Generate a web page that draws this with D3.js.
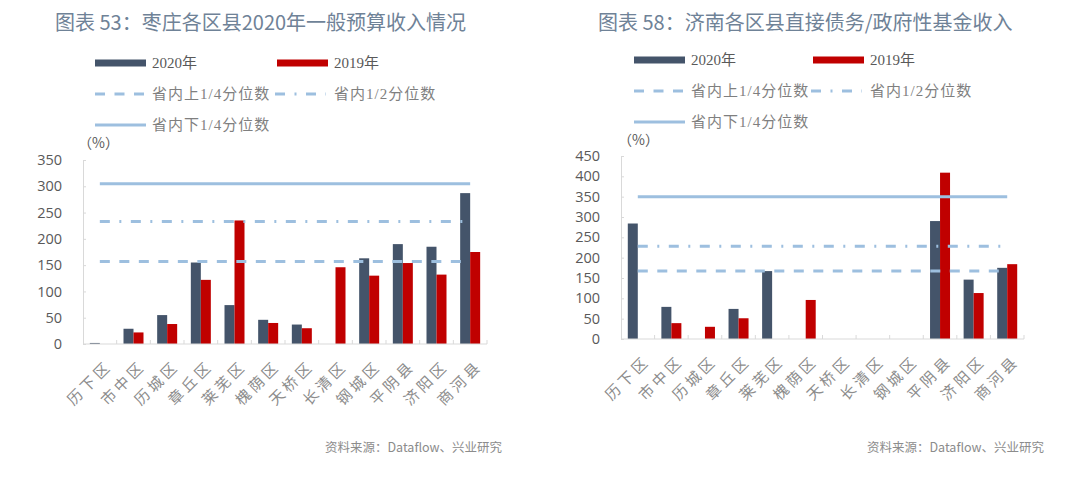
<!DOCTYPE html>
<html><head><meta charset="utf-8">
<script src="https://cdn.jsdelivr.net/npm/d3@7"></script>
<style>
html,body{margin:0;padding:0;background:#fff;}
svg{display:block;}
</style></head>
<body>
<svg id="chart" width="1080" height="479"></svg>
<script>
// ---- data ----
const categories = ["历下区","市中区","历城区","章丘区","莱芜区","槐荫区","天桥区","长清区","钢城区","平阴县","济阳区","商河县"];
const seriesNames = ["2020年","2019年"];
const refNames = ["省内上1/4分位数","省内1/2分位数","省内下1/4分位数"];

const leftTitle = "图表 53：枣庄各区县2020年一般预算收入情况";
const left2020 = [2, 29, 55, 155, 74, 46, 37, 0, 163, 190, 185, 287];
const left2019 = [0, 22, 38, 122, 235, 40, 30, 146, 130, 154, 132, 175];
const leftRefs = [157, 233, 305];
const leftTicks = [0, 50, 100, 150, 200, 250, 300, 350];

const rightTitle = "图表 58：济南各区县直接债务/政府性基金收入";
const right2020 = [284, 79, 0, 74, 167, 0, 0, 0, 0, 290, 146, 175];
const right2019 = [0, 39, 30, 51, 0, 96, 0, 0, 0, 409, 113, 184];
const rightRefs = [167, 228, 350];
const rightTicks = [0, 50, 100, 150, 200, 250, 300, 350, 400, 450];

const sourceText = "资料来源：Dataflow、兴业研究";

// ---- style ----
const C2020 = "#44546a", C2019 = "#c00000", CREF = "#9dbfdf";
const dashes = ["10,9.5", "10,9.5,2,9.5", null];
const serif = "'Liberation Serif','Noto Sans CJK SC',serif";
const sans = "'Open Sans','Noto Sans CJK SC',sans-serif";
const cjk = "'Noto Sans CJK SC',sans-serif";

const svg = d3.select("#chart");

function drawChart(cfg) {
  const g = svg.append("g");
  // title
  g.append("text").attr("x", cfg.titleX).attr("y", cfg.titleY)
    .attr("font-family", cjk).attr("font-size", 20).attr("font-weight", 400)
    .attr("fill", "#6f8297").text(cfg.title);

  // legend
  const lx = cfg.legX, lx2 = cfg.legX2, ry = cfg.legRows;
  const leg = g.append("g");
  [[lx, ry[0], C2020, seriesNames[0]], [lx2, ry[0], C2019, seriesNames[1]]].forEach(([x, y, c, t]) => {
    leg.append("rect").attr("x", x).attr("y", y - 3.5).attr("width", 51).attr("height", 7).attr("fill", c);
    leg.append("text").attr("x", x + 57).attr("y", y + 5).attr("font-family", serif).attr("font-size", 15)
      .attr("fill", "#595959").text(t);
  });
  [[lx, ry[1], 0], [lx2 - 2, ry[1], 1], [lx, ry[2], 2]].forEach(([x, y, i]) => {
    leg.append("line").attr("x1", x).attr("x2", x + 51).attr("y1", y).attr("y2", y)
      .attr("stroke", CREF).attr("stroke-width", 3)
      .attr("stroke-dasharray", dashes[i]);
    leg.append("text").attr("x", x + 57 + (i === 1 ? 2 : 0)).attr("y", y + 5).attr("font-family", serif).attr("font-size", 15)
      .attr("letter-spacing", 1).attr("fill", "#7f7f7f").text(refNames[i]);
  });

  // unit
  g.append("text").attr("x", cfg.unitX).attr("y", cfg.unitY).attr("font-family", cjk).attr("font-size", 14)
    .attr("fill", "#595959").text("（%）");

  // scales
  const x0 = d3.scaleBand().domain(categories).range([cfg.x0, cfg.x1]).padding(0);
  const x1 = d3.scaleBand().domain(seriesNames).range([0, 20]).padding(0);
  const y = d3.scaleLinear().domain([0, cfg.ticks[cfg.ticks.length - 1]]).range([cfg.y0, cfg.yTop]);

  // y axis
  const ya = g.append("g").attr("transform", `translate(${cfg.x0},0)`)
    .call(d3.axisLeft(y).tickValues(cfg.ticks).tickSize(-3).tickPadding(21).tickFormat(d3.format("d")));
  ya.select(".domain").attr("stroke", "#d9d9d9");
  ya.selectAll(".tick line").attr("stroke", "#d9d9d9");
  ya.selectAll(".tick text").attr("font-family", sans).attr("font-size", 14.5).attr("fill", "#595959");

  // bars
  const rows = categories.map((c, i) => ({c, v: [cfg.s2020[i], cfg.s2019[i]]}));
  const bg = g.append("g");
  rows.forEach(r => {
    const cx = x0(r.c) + x0.bandwidth() / 2 - 10;
    seriesNames.forEach((s, j) => {
      const v = r.v[j];
      if (v <= 0) return;
      bg.append("rect").attr("x", cx + x1(s)).attr("width", x1.bandwidth())
        .attr("y", y(v)).attr("height", y(0) - y(v))
        .attr("fill", j === 0 ? C2020 : C2019);
    });
  });

  // x axis
  const xa = g.append("g").attr("transform", `translate(0,${cfg.y0})`);
  xa.append("line").attr("x1", cfg.x0).attr("x2", cfg.x1).attr("stroke", "#d9d9d9");
  categories.forEach((c, i) => {
    xa.append("line").attr("x1", x0(c) + x0.bandwidth()).attr("x2", x0(c) + x0.bandwidth())
      .attr("y1", 0).attr("y2", -4).attr("stroke", "#d9d9d9");
    const cx = x0(c) + x0.bandwidth() / 2 + 5;
    xa.append("text").attr("transform", `translate(${cx},15) rotate(-45)`)
      .attr("text-anchor", "end").attr("dy", "0.75em")
      .attr("font-family", cjk).attr("font-size", 15).attr("letter-spacing", 3.5)
      .attr("fill", "#8c8c8c").text(c);
  });

  // reference lines
  const first = x0(categories[0]) + x0.bandwidth() / 2;
  const last = x0(categories[categories.length - 1]) + x0.bandwidth() / 2;
  cfg.refs.forEach((v, i) => {
    g.append("line").attr("x1", first).attr("x2", last).attr("y1", y(v)).attr("y2", y(v))
      .attr("stroke", CREF).attr("stroke-width", 3).attr("stroke-dasharray", dashes[i]);
  });

  // source
  g.append("text").attr("x", cfg.srcX).attr("y", cfg.srcY).attr("font-family", cjk).attr("font-size", 12.5)
    .attr("fill", "#8c8c8c").text(sourceText);
}

drawChart({
  title: leftTitle, titleX: 55, titleY: 30,
  legX: 95, legX2: 277, legRows: [63, 94, 125],
  unitX: 78, unitY: 148,
  x0: 83, x1: 487, y0: 344, yTop: 160, ticks: leftTicks,
  s2020: left2020, s2019: left2019, refs: leftRefs,
  srcX: 325, srcY: 452
});
drawChart({
  title: rightTitle, titleX: 598, titleY: 30,
  legX: 634, legX2: 813, legRows: [60, 91, 122],
  unitX: 618, unitY: 145,
  x0: 621, x1: 1024, y0: 339, yTop: 156, ticks: rightTicks,
  s2020: right2020, s2019: right2019, refs: rightRefs,
  srcX: 867, srcY: 452
});
</script>
</body></html>
